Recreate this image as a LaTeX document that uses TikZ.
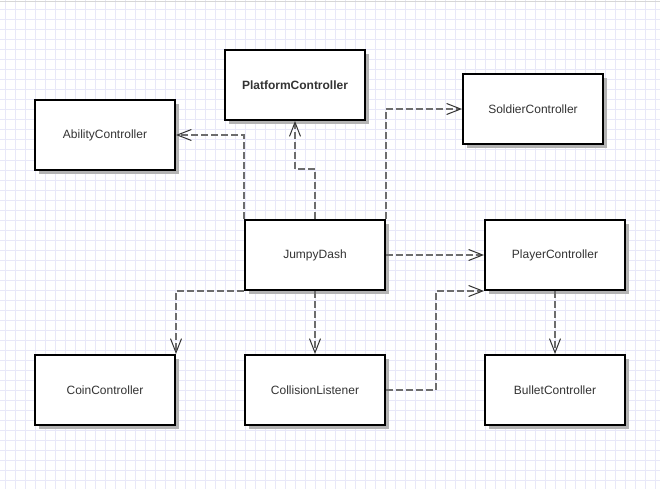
\documentclass[tikz,border=0pt]{standalone}
\usepackage{fontspec}
\setmainfont{Liberation Sans}
\usetikzlibrary{arrows.meta,shadows}
\definecolor{gridc}{HTML}{E8E8F8}
\definecolor{topc}{HTML}{D6D6D6}
\definecolor{shadc}{HTML}{B3B3B3}
\definecolor{linec}{HTML}{6D6D6D}
\definecolor{tipc}{HTML}{333333}
\definecolor{txtc}{HTML}{333333}
\tikzset{
  gridline/.style={draw=gridc, line width=1pt},
  box/.style={draw=black, line width=2pt, fill=white, minimum width=140pt, minimum height=70pt,
    inner sep=0pt, text=txtc, font=\fontsize{12}{14}\selectfont,
    drop shadow={shadow xshift=4pt, shadow yshift=-4pt, fill=shadc, opacity=1}},
  dep/.style={draw=linec, line width=1.7pt, dash pattern=on 7pt off 3pt,
    -{Straight Barb[length=14pt, width=11pt, line width=1pt, color=tipc]}},
}
\begin{document}
\begin{tikzpicture}[x=1pt,y=-1pt]
\useasboundingbox (0,0) rectangle (660,489);
\fill[white] (0,0) rectangle (660,489);
\foreach \x in {5,15,...,655} \draw[gridline] (\x,0) -- (\x,489);
\foreach \y in {10,20,...,480} \draw[gridline] (0,\y) -- (660,\y);
\draw[draw=topc, line width=1.5pt] (0,1.5) -- (660,1.5);

\node[box] (ability) at (105,135) {AbilityController};
\node[box, font=\fontsize{12}{14}\selectfont\bfseries] (platform) at (295,85) {PlatformController};
\node[box] (soldier) at (533,109) {SoldierController};
\node[box] (jd) at (315,255) {JumpyDash};
\node[box] (player) at (555,255) {PlayerController};
\node[box] (coin) at (105,390) {CoinController};
\node[box] (coll) at (315,390) {CollisionListener};
\node[box] (bullet) at (555,390) {BulletController};

\draw[dep] (jd.north west) |- (ability.east);
\draw[dep] (jd.north) -- ++(0,-50) -| (platform.south);
\draw[dep] (jd.north east) |- (soldier.west);
\draw[dep] (jd.east) -- (player.west);
\draw[dep] (coll.east) -- ++(50,0) |- (player.south west);
\draw[dep] (jd.south west) -| (coin.north east);
\draw[dep] (jd.south) -- (coll.north);
\draw[dep] (player.south) -- (bullet.north);
\end{tikzpicture}
\end{document}
